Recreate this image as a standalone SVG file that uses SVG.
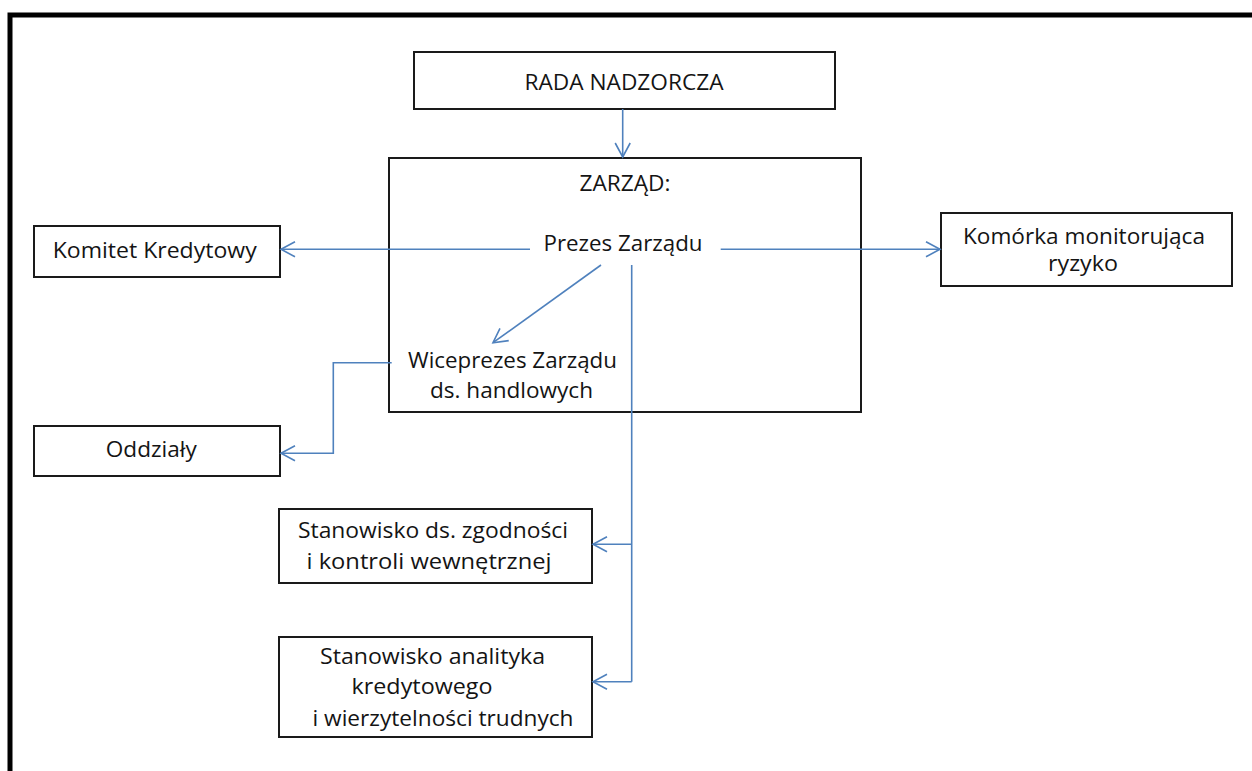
<svg xmlns="http://www.w3.org/2000/svg" width="1252" height="771" viewBox="0 0 1252 771">
<style>
.box{fill:#fff;stroke:#1a1a1a;stroke-width:2}
.t{font-family:"Open Sans","Liberation Sans",Arial,sans-serif;font-size:22px;fill:#141414;text-anchor:middle}
.s{font-size:21px}
.c{fill:none;stroke:#4f81bd;stroke-width:1.6}
</style>
<defs>
<marker id="ah" markerUnits="userSpaceOnUse" markerWidth="20" markerHeight="20" refX="16" refY="9" orient="auto">
<path d="M2,1.5 L16,9 L2,16.5" fill="none" stroke="#4f81bd" stroke-width="1.6"/>
</marker>
</defs>
<rect width="1252" height="771" fill="#fff"/>
<path d="M10,771 L10,15 L1252,15" fill="none" stroke="#000" stroke-width="5"/>

<g id="rada">
<rect class="box" x="414" y="52" width="421" height="57"/>
<text class="t" x="624" y="90" textLength="199" lengthAdjust="spacingAndGlyphs">RADA NADZORCZA</text>
</g>
<g id="zarzad">
<rect class="box" x="389" y="158" width="472" height="254"/>
<text class="t" x="625" y="191" textLength="91" lengthAdjust="spacingAndGlyphs">ZARZĄD:</text>
<text class="t" x="623" y="251" textLength="159" lengthAdjust="spacingAndGlyphs">Prezes Zarządu</text>
<text class="t" x="512.5" y="368" textLength="209" lengthAdjust="spacingAndGlyphs">Wiceprezes Zarządu</text>
<text class="t" x="511.5" y="398" textLength="163" lengthAdjust="spacingAndGlyphs">ds. handlowych</text>
</g>
<g id="komitet">
<rect class="box" x="34" y="226" width="246" height="51"/>
<text class="t" x="154.7" y="258" textLength="204" lengthAdjust="spacingAndGlyphs">Komitet Kredytowy</text>
</g>
<g id="oddzialy">
<rect class="box" x="34" y="426" width="246" height="50"/>
<text class="t" x="151.3" y="457" textLength="91" lengthAdjust="spacingAndGlyphs">Oddziały</text>
</g>
<g id="komorka">
<rect class="box" x="941" y="213" width="291" height="73"/>
<text class="t s" x="1084" y="243.5" textLength="242" lengthAdjust="spacingAndGlyphs">Komórka monitorująca</text>
<text class="t s" x="1083" y="271" textLength="70" lengthAdjust="spacingAndGlyphs">ryzyko</text>
</g>
<g id="zgodnosc">
<rect class="box" x="279" y="509" width="313" height="74"/>
<text class="t" x="433" y="538" textLength="270" lengthAdjust="spacingAndGlyphs">Stanowisko ds. zgodności</text>
<text class="t" x="429" y="569" textLength="245" lengthAdjust="spacingAndGlyphs">i kontroli wewnętrznej</text>
</g>
<g id="analityk">
<rect class="box" x="279" y="637" width="313" height="100"/>
<text class="t" x="432.5" y="664" textLength="225" lengthAdjust="spacingAndGlyphs">Stanowisko analityka</text>
<text class="t" x="422" y="694" textLength="141" lengthAdjust="spacingAndGlyphs">kredytowego</text>
<text class="t" x="443" y="726" textLength="261" lengthAdjust="spacingAndGlyphs">i wierzytelności trudnych</text>
</g>

<g id="connectors">
<path class="c" d="M622.7,109 L622.7,157" marker-end="url(#ah)"/>
<path class="c" d="M530,249.3 L281,249.3" marker-end="url(#ah)"/>
<path class="c" d="M720.7,249.3 L940,249.3" marker-end="url(#ah)"/>
<path class="c" d="M601,265 L493,342.7" marker-end="url(#ah)"/>
<path class="c" d="M391.7,362.7 L333.3,362.7 L333.3,453.3 L281,453.3" marker-end="url(#ah)"/>
<path class="c" d="M631.7,265 L631.7,681.7"/>
<path class="c" d="M631.7,544.3 L593,544.3" marker-end="url(#ah)"/>
<path class="c" d="M631.7,681.7 L593,681.7" marker-end="url(#ah)"/>
</g>
</svg>
